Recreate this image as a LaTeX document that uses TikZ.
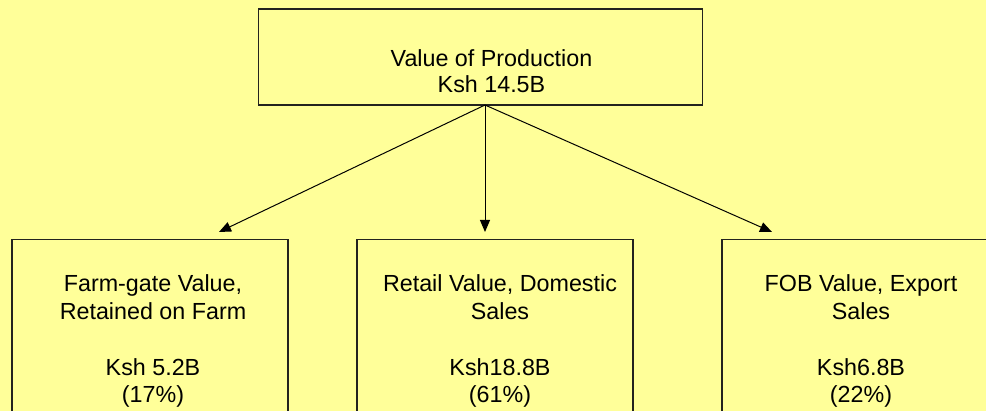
\documentclass[tikz,border=0pt]{standalone}
\usepackage{fontspec}
\setmainfont{Liberation Sans}
\usetikzlibrary{arrows.meta}
\definecolor{bg}{RGB}{255,255,153}
\definecolor{edge}{RGB}{35,35,30}
\begin{document}
\begin{tikzpicture}[x=1pt,y=-1pt,
  box/.style={draw=edge, line width=1.3pt, fill=bg, rectangle, inner sep=0pt},
  lbl/.style={anchor=base, inner sep=0pt, font=\fontsize{23.3}{27.5}\selectfont},
  arr/.style={draw=black, line width=1pt, -{Triangle[length=12pt,width=10pt]}}]
\fill[bg] (0,0) rectangle (986,411);
\clip (0,0) rectangle (986,411);
% boxes
\node[box, minimum width=444pt, minimum height=96pt] (top) at (480.3,57) {};
\node[box, minimum width=276pt, minimum height=200pt] (left) at (150,339.5) {};
\node[box, minimum width=276pt, minimum height=200pt] (mid) at (495,339.5) {};
\node[box, minimum width=276pt, minimum height=200pt] (right) at (860,339.5) {};
% arrow ends
\coordinate (src) at (485,105);
\coordinate (tipL) at (219,232);
\coordinate (tipM) at (485,232);
\coordinate (tipR) at (772,232);
\draw[arr] (src) -- (tipL);
\draw[arr] (src) -- (tipM);
\draw[arr] (src) -- (tipR);
% top text
\node[lbl] (t1) at (491.5,66.7) {Value of Production};
\node[lbl] (t2) at (491.5,93) {Ksh 14.5B};
% left text
\node[lbl] (l1) at (153,291.7) {Farm-gate Value,};
\node[lbl] (l2) at (153,319.3) {Retained on Farm};
\node[lbl] (l3) at (153,376) {Ksh 5.2B};
\node[lbl] (l4) at (153,402.7) {(17\%)};
% middle text
\node[lbl] (m1) at (500,291.7) {Retail Value, Domestic};
\node[lbl] (m2) at (500,319.3) {Sales};
\node[lbl] (m3) at (500,376) {Ksh18.8B};
\node[lbl] (m4) at (500,402.7) {(61\%)};
% right text
\node[lbl] (r1) at (861,291.7) {FOB Value, Export};
\node[lbl] (r2) at (861,319.3) {Sales};
\node[lbl] (r3) at (861,376) {Ksh6.8B};
\node[lbl] (r4) at (861,402.7) {(22\%)};
\end{tikzpicture}
\end{document}
